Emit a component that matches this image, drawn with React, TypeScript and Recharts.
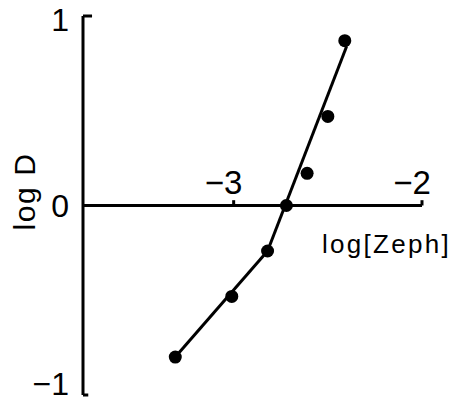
import React from "react";
import { ComposedChart, Line, Scatter, XAxis, YAxis, ReferenceLine } from "recharts";

// measured points: log[Zeph] vs log D
const logZeph = [-3.31, -3.01, -2.82, -2.72, -2.61, -2.5, -2.41];
const logD = [-0.8, -0.48, -0.24, 0.0, 0.17, 0.47, 0.87];

// two fitted straight segments
const lowFitX = [-3.31, -2.82];
const lowFitY = [-0.8, -0.24];
const highFitX = [-2.82, -2.4];
const highFitY = [-0.24, 0.84];

const xTicks = [-3, -2];
const yTicks = [-1, 0, 1];

const points = logZeph.map((x, i) => ({ x, y: logD[i] }));
const lowFit = lowFitX.map((x, i) => ({ x, y: lowFitY[i] }));
const highFit = highFitX.map((x, i) => ({ x, y: highFitY[i] }));

const FONT = "'Liberation Sans', Arial, sans-serif";

const YTick = (props: any) => {
  const { x, y, payload } = props;
  const v = payload.value;
  const dy = v === 1 ? 4 : v === -1 ? -11 : 0;
  return (
    <text x={x} y={y} dy={dy} textAnchor="end" dominantBaseline="central" fontSize={32} fontFamily={FONT} fill="#000">
      {v < 0 ? "\u2212" + Math.abs(v) : v}
    </text>
  );
};

const xTickLabel = (txt: string) => (p: any) => {
  const vb = p.viewBox || {};
  return (
    <text x={vb.x - 10} y={vb.y + vb.height - 12} textAnchor="middle" fontSize={33} fontFamily={FONT} fill="#000">
      {txt}
    </text>
  );
};

export default function App() {
  return (
    <div style={{ position: "absolute", left: 0, top: 0, background: "#fff" }}>
      <ComposedChart width={461} height={401} margin={{ top: 16, right: 39, bottom: 6, left: 0 }}>
        <XAxis dataKey="x" type="number" domain={[-3.8, -2]} hide allowDataOverflow />
        <YAxis
          type="number"
          domain={[-1, 1]}
          ticks={yTicks}
          interval={0}
          width={83}
          axisLine={false}
          tickLine={false}
          tickSize={0}
          tickMargin={14}
          tick={<YTick />}
          label={(p: any) => {
            const vb = p.viewBox || {};
            return (
              <text
                transform={`translate(35,${vb.y + vb.height / 2 - 14}) rotate(-90)`}
                textAnchor="middle"
                fontSize={30}
                letterSpacing={1.6}
                fontFamily={FONT}
                fill="#000"
              >
                log D
              </text>
            );
          }}
        />
        {/* y axis line with its inner end ticks */}
        <ReferenceLine segment={[{ x: -3.8, y: -1 }, { x: -3.8, y: 1 }]} stroke="#000" strokeWidth={3} />
        <ReferenceLine segment={[{ x: -3.8, y: 1 }, { x: -3.752, y: 1 }]} stroke="#000" strokeWidth={3} />
        <ReferenceLine segment={[{ x: -3.8, y: -1 }, { x: -3.772, y: -1 }]} stroke="#000" strokeWidth={3} />
        {/* x axis drawn through zero */}
        <ReferenceLine
          segment={[{ x: -3.8, y: 0 }, { x: -2, y: 0 }]}
          stroke="#000"
          strokeWidth={3}
          label={(p: any) => {
            const vb = p.viewBox || {};
            return (
              <text x={vb.x + vb.width - 100} y={vb.y + 47} textAnchor="start" fontSize={26} letterSpacing={2.3} fontFamily={FONT} fill="#000">
                log[Zeph]
              </text>
            );
          }}
        />
        {xTicks.map((t) => (
          <ReferenceLine
            key={t}
            segment={[{ x: t, y: 0 }, { x: t, y: 0.028 }]}
            stroke="#000"
            strokeWidth={3}
            label={xTickLabel("\u2212" + Math.abs(t))}
          />
        ))}
        <Line data={lowFit} dataKey="y" type="linear" stroke="#000" strokeWidth={3} dot={false} isAnimationActive={false} />
        <Line data={highFit} dataKey="y" type="linear" stroke="#000" strokeWidth={3} dot={false} isAnimationActive={false} />
        <Scatter data={points} dataKey="y" fill="#000" isAnimationActive={false} shape={(p: any) => <circle cx={p.cx} cy={p.cy} r={6.5} fill="#000" />} />
      </ComposedChart>
    </div>
  );
}
